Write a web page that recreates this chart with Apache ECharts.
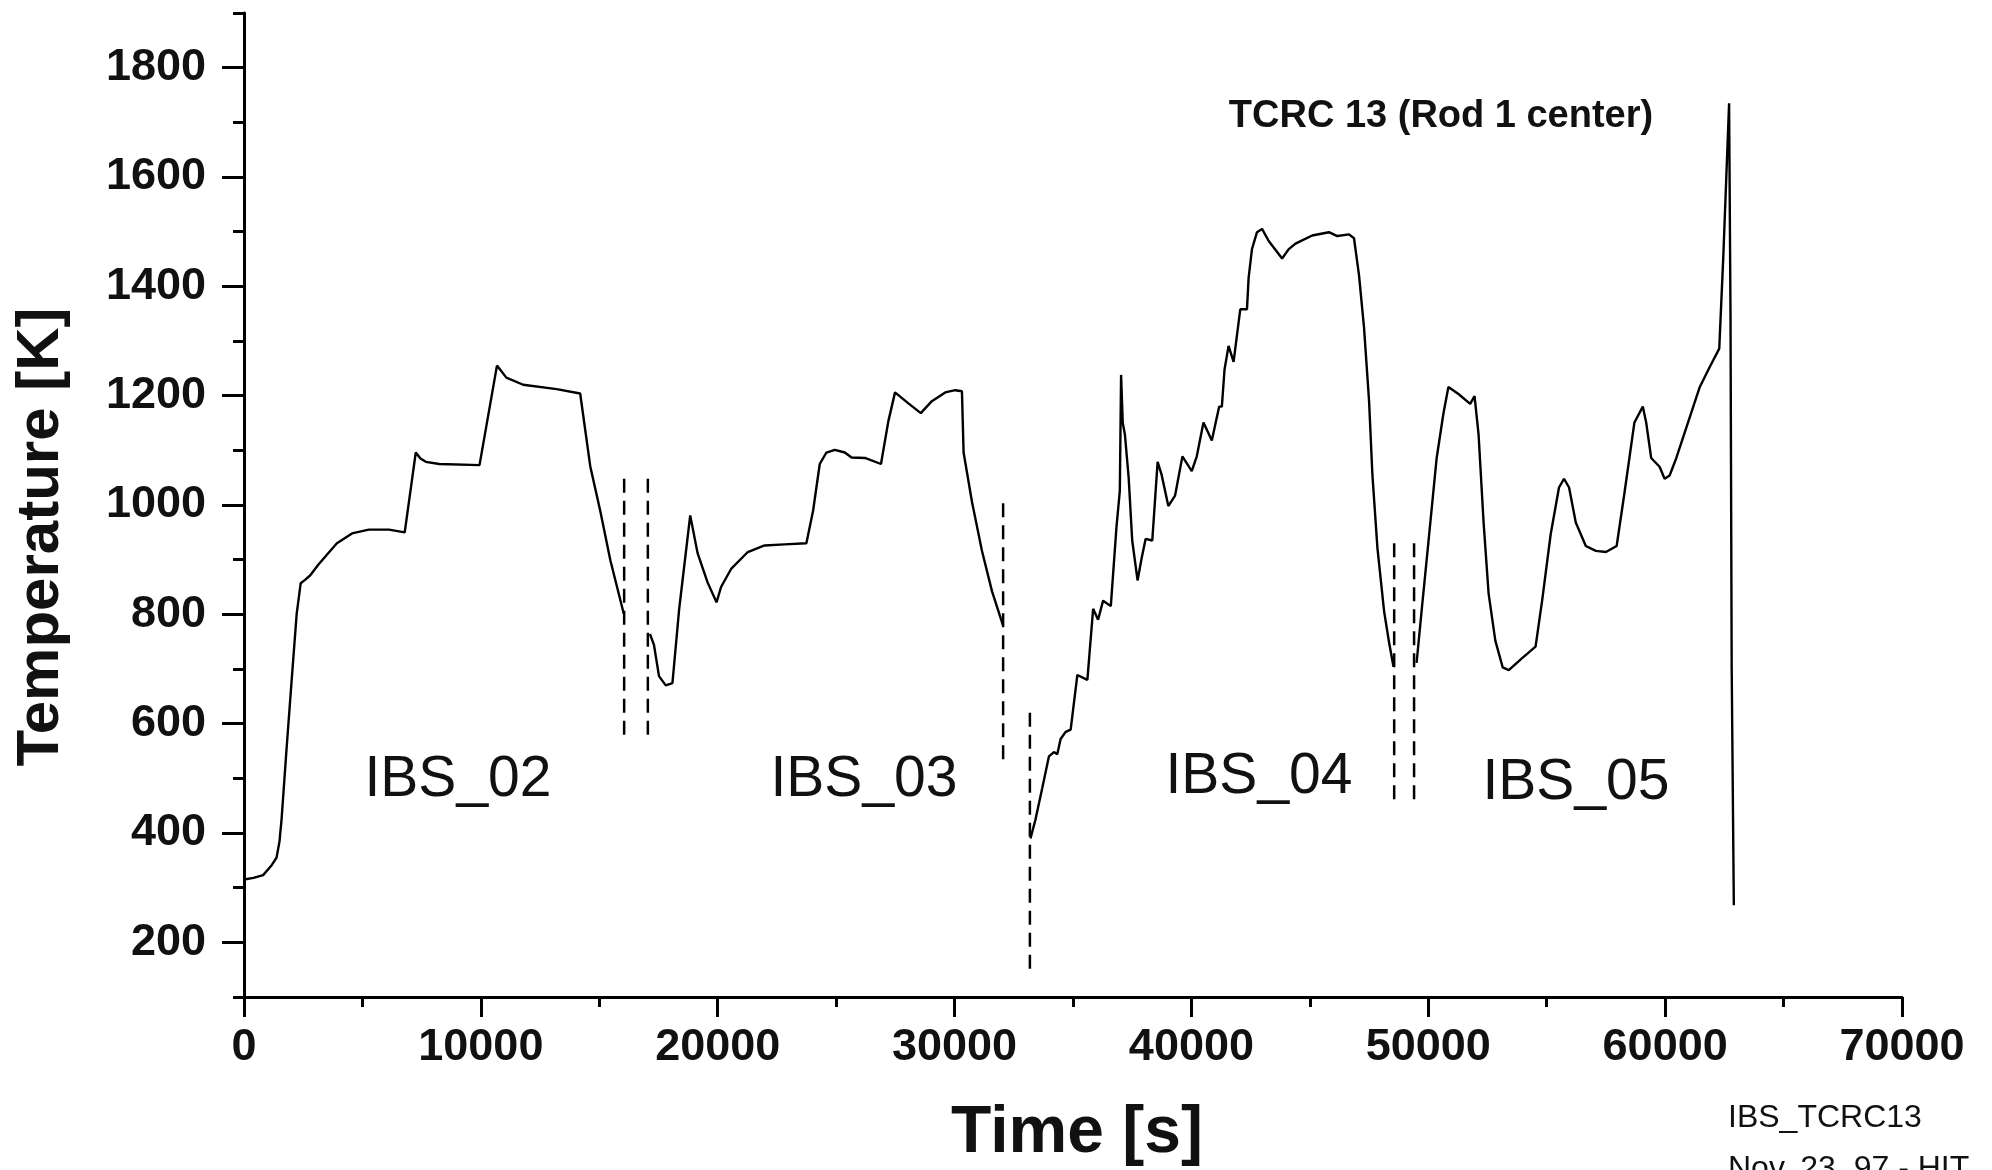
<!DOCTYPE html>
<html><head><meta charset="utf-8">
<script src="https://cdn.jsdelivr.net/npm/echarts@6.0.0/dist/echarts.min.js"></script>
<style>html,body{margin:0;padding:0;background:#fff}#c{width:1992px;height:1170px}</style>
</head><body><div id="c"></div>
<script>
// ---- tick values ----
const xMajorTicks = [0, 10000, 20000, 30000, 40000, 50000, 60000, 70000];
const xMinorTicks = [5000, 15000, 25000, 35000, 45000, 55000, 65000];
const yMajorTicks = [200, 400, 600, 800, 1000, 1200, 1400, 1600, 1800];
const yMinorTicks = [100, 300, 500, 700, 900, 1100, 1300, 1500, 1700, 1900];

// ---- TCRC 13 temperature [time s, temperature K], one array per continuous piece ----
const segIBS02 = [[0,315],[400,318],[807,323],[1150,340],[1374,355],[1500,385],[1586,425],[1800,556],[2011,679],[2224,801],[2394,857],[2578,863],[2790,871],[3144,891],[3500,909],[3923,930],[4560,948],[5270,955],[6119,955],[6785,950],[7252,1096],[7450,1085],[7677,1079],[8244,1075],[9943,1073],[10680,1255],[11076,1233],[11785,1220],[13201,1212],[14193,1204],[14618,1071],[15042,989],[15467,899],[16034,801]];
const segIBS03 = [[17139,764],[17309,744],[17521,687],[17805,670],[18088,674],[18371,809],[18839,981],[19150,912],[19575,858],[19950,822],[20141,850],[20565,883],[21271,914],[21977,926],[22825,928],[23743,930],[24025,989],[24308,1075],[24590,1096],[24944,1101],[25367,1096],[25650,1087],[26215,1086],[26893,1075],[27203,1153],[27486,1206],[28051,1186],[28573,1168],[29040,1190],[29605,1206],[30028,1210],[30311,1208],[30381,1096],[30734,1006],[31158,916],[31582,842],[32034,781]];
const segIBS04 = [[33206,390],[33418,425],[33700,482],[33983,540],[34195,548],[34336,544],[34477,572],[34689,585],[34901,589],[35184,689],[35607,680],[35850,810],[36059,790],[36271,825],[36596,815],[36836,960],[36977,1026],[37030,1238],[37100,1150],[37189,1130],[37350,1050],[37500,935],[37726,862],[37895,902],[38065,938],[38347,935],[38573,1079],[38743,1055],[39025,998],[39308,1017],[39619,1089],[40014,1062],[40226,1089],[40508,1151],[40861,1118],[41172,1180],[41285,1180],[41398,1248],[41568,1291],[41780,1262],[42062,1358],[42345,1358],[42415,1416],[42556,1468],[42768,1499],[42980,1505],[43263,1483],[43828,1451],[44110,1468],[44393,1478],[45099,1493],[45805,1499],[46158,1492],[46653,1495],[46864,1488],[47076,1420],[47288,1324],[47500,1190],[47641,1055],[47853,921],[48136,805],[48347,748],[48531,704]];
const segIBS05 = [[49506,711],[49717,806],[50000,930],[50354,1086],[50637,1167],[50849,1216],[51274,1203],[51769,1185],[51953,1199],[52123,1129],[52335,968],[52547,838],[52830,752],[53142,703],[53397,698],[53963,720],[54529,741],[54812,827],[55166,946],[55519,1032],[55731,1048],[55944,1032],[56227,968],[56651,925],[57075,916],[57500,914],[57953,925],[58279,1021],[58703,1151],[59057,1180],[59199,1151],[59411,1086],[59765,1070],[59977,1048],[60189,1054],[60472,1086],[60968,1151],[61463,1216],[61887,1253],[62284,1286],[62454,1453],[62700,1735],[62760,1345],[62810,700],[62900,268]];

// ---- dashed run separators ----
const dashTimes   = [16050, 17050, 32050, 33180, 48560, 49400];
const dashTops    = [1048, 1048, 1003, 620, 930, 930];
const dashBottoms = [576, 576, 531, 150, 460, 460];

const runLabels = ['IBS_02', 'IBS_03', 'IBS_04', 'IBS_05'];

const FONT = "'Liberation Sans', Arial, sans-serif";
const chart = echarts.init(document.getElementById('c'), null, {renderer: 'canvas'});

const curveStyle = {color: '#000', width: 2.4};
const series = [segIBS02, segIBS03, segIBS04, segIBS05].map(d => ({
  type: 'line', data: d, showSymbol: false, symbol: 'none',
  lineStyle: curveStyle, xAxisIndex: 0, yAxisIndex: 0, silent: true, animation: false
}));
dashTimes.forEach((t, i) => {
  series.push({
    type: 'line', data: [[t, dashTops[i]], [t, dashBottoms[i]]], symbol: 'none',
    lineStyle: {color: '#000', width: 2.5, type: [14, 8]}, silent: true, animation: false
  });
});

const axisLineStyle = {color: '#000', width: 3};
const runLabelPos = [[458, 780], [864, 780], [1259, 777], [1576, 783]];
const plain = v => String(v);

chart.setOption({
  backgroundColor: '#fff',
  animation: false,
  grid: {left: 244, right: 90, top: 13, bottom: 173},
  xAxis: [
    {type: 'value', min: 0, max: 70000, position: 'bottom',
     axisLine: {onZero: false, lineStyle: axisLineStyle},
     axisTick: {show: true, customValues: xMajorTicks, length: 20, lineStyle: axisLineStyle},
     axisLabel: {customValues: xMajorTicks, formatter: plain, margin: 28, fontSize: 45, fontWeight: 'bold', color: '#111', fontFamily: FONT},
     splitLine: {show: false}},
    {type: 'value', min: 0, max: 70000, position: 'bottom',
     axisLine: {show: false, onZero: false},
     axisTick: {show: true, customValues: xMinorTicks, length: 10, lineStyle: axisLineStyle},
     axisLabel: {show: false}, splitLine: {show: false}}
  ],
  yAxis: [
    {type: 'value', min: 100, max: 1900, position: 'left',
     axisLine: {show: true, onZero: false, lineStyle: axisLineStyle},
     axisTick: {show: true, customValues: yMajorTicks, length: 22, lineStyle: axisLineStyle},
     axisLabel: {customValues: yMajorTicks, formatter: plain, margin: 38, fontSize: 45, fontWeight: 'bold', color: '#111', fontFamily: FONT},
     splitLine: {show: false}},
    {type: 'value', min: 100, max: 1900, position: 'left',
     axisLine: {show: false, onZero: false},
     axisTick: {show: true, customValues: yMinorTicks, length: 11, lineStyle: axisLineStyle},
     axisLabel: {show: false}, splitLine: {show: false}}
  ],
  series: series,
  graphic: [
    {type: 'text', x: 41, y: 537, rotation: Math.PI / 2,
     style: {text: 'Temperature [K]', font: 'bold 60px ' + FONT, fill: '#111', align: 'center', verticalAlign: 'middle'}},
    {type: 'text', x: 1077, y: 1134,
     style: {text: 'Time [s]', font: 'bold 66px ' + FONT, fill: '#111', align: 'center', verticalAlign: 'middle'}},
    {type: 'text', x: 1441, y: 117,
     style: {text: 'TCRC 13 (Rod 1 center)', font: 'bold 38px ' + FONT, fill: '#111', align: 'center', verticalAlign: 'middle'}},
    ...runLabels.map((s, i) => ({type: 'text', x: runLabelPos[i][0], y: runLabelPos[i][1],
     style: {text: s, font: '57px ' + FONT, fill: '#111', align: 'center', verticalAlign: 'middle'}})),
    {type: 'text', x: 1728, y: 1118,
     style: {text: 'IBS_TCRC13', font: '32px ' + FONT, fill: '#111', align: 'left', verticalAlign: 'middle'}},
    {type: 'text', x: 1728, y: 1153,
     style: {text: 'Nov. 23. 97 - HIT', font: '32px ' + FONT, fill: '#111', align: 'left', verticalAlign: 'top'}}
  ]
});
</script>
</body></html>
